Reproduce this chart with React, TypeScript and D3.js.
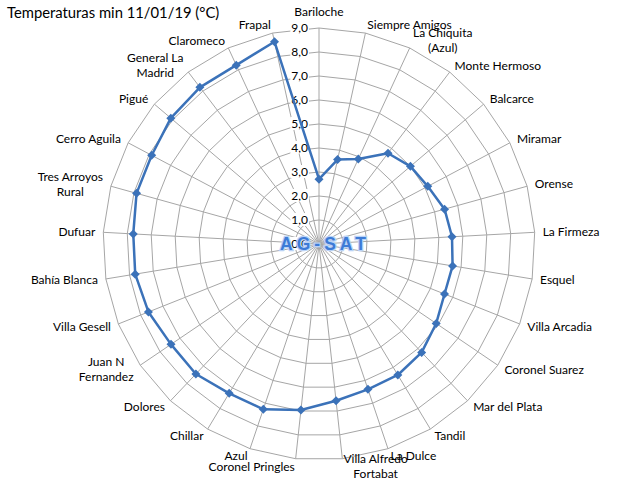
import React from "react";
import * as d3 from "d3";

const categories: string[] = [
  "Bariloche", "Siempre Amigos", "La Chiquita\n(Azul)", "Monte Hermoso", "Balcarce",
  "Miramar", "Orense", "La Firmeza", "Esquel", "Villa Arcadia", "Coronel Suarez",
  "Mar del Plata", "Tandil", "La Dulce", "Villa Alfredo\nFortabat", "Coronel Pringles",
  "Azul", "Chillar", "Dolores", "Juan N\nFernandez", "Villa Gesell", "Bahía Blanca",
  "Dufuar", "Tres Arroyos\nRural", "Cerro Aguila", "Pigué", "General La\nMadrid",
  "Claromeco", "Frapal",
];
const values: number[] = [
  2.7, 3.6, 3.9, 4.75, 5.0, 5.13, 5.43, 5.55, 5.64, 5.63, 5.9, 6.22, 6.37, 6.39, 6.57,
  6.96, 7.27, 7.26, 7.46, 7.45, 7.65, 7.76, 7.75, 7.89, 7.89, 8.1, 8.2, 8.21, 8.63,
];
const tickValues: number[] = [0, 1, 2, 3, 4, 5, 6, 7, 8, 9];
const title = "Temperaturas min 11/01/19 (°C)";
const watermark = "AG-SAT";

const W = 640, H = 480;
const cx = 319, cy = 244, R = 216;
const FONT = "Lato, 'Open Sans', sans-serif";
const LABEL_SIZE = 12;
const GRID = "#a6a6a6";
const SERIES = "#3b72b9";

let measureCtx: CanvasRenderingContext2D | null = null;
function textWidth(s: string, size: number): number {
  if (!measureCtx) measureCtx = document.createElement("canvas").getContext("2d");
  if (!measureCtx) return s.length * size * 0.5;
  measureCtx.font = `${size}px Lato`;
  return measureCtx.measureText(s).width;
}

export default function App() {
  const n = categories.length;
  const r = d3.scaleLinear().domain([0, 9]).range([0, R]);
  const ang = d3.scaleLinear().domain([0, n]).range([0, 2 * Math.PI]);
  const pt = (i: number, rad: number): [number, number] => [
    cx + rad * Math.sin(ang(i)),
    cy - rad * Math.cos(ang(i)),
  ];
  const fmt = (v: number) => d3.format(".1f")(v).replace(".", ",");

  const ringPath = (v: number) =>
    d3.line()(d3.range(n).map((i) => pt(i, r(v)))) + "Z";

  const seriesPath = d3
    .lineRadial<number>()
    .angle((_, i) => ang(i))
    .radius((d) => r(d))
    .curve(d3.curveLinearClosed)(values) as string;

  const fmtLabel = (cat: string, i: number) => {
    const lines = cat.split("\n");
    const [px, py0] = pt(i, R + 8);
    const s = Math.sin(ang(i));
    const c = Math.cos(ang(i));
    const lh = 15;
    let py = py0;
    if (Math.abs(s) < 0.05) py = py0 - c * 8;
    const bw = Math.max(...lines.map((l) => textWidth(l, LABEL_SIZE)));
    let mx = px;
    if (s > 0.05) mx = px + bw / 2;
    else if (s < -0.05) mx = px - bw / 2;
    const top = py - ((lines.length - 1) * lh) / 2;
    return (
      <text key={i} fontFamily={FONT} fontSize={LABEL_SIZE} fill="#000" textAnchor="middle">
        {lines.map((l, k) => (
          <tspan key={k} x={mx} y={top + k * lh} dy="0.35em">{l}</tspan>
        ))}
      </text>
    );
  };

  return (
    <svg width={W} height={H} style={{ position: "absolute", left: 0, top: 0, background: "#fff" }}>
      <rect width={W} height={H} fill="#fff" />
      <text x={7} y={18} fontFamily={FONT} fontSize={14.8} fill="#000">{title}</text>
      <g>
        {tickValues.filter((v) => v > 0).map((v) => (
          <path key={v} d={ringPath(v)} fill="none" stroke={GRID} strokeWidth={1} />
        ))}
        {d3.range(n).map((i) => {
          const [x, y] = pt(i, R);
          return <line key={i} x1={cx} y1={cy} x2={x} y2={y} stroke={GRID} strokeWidth={1} />;
        })}
      </g>
      <g>
        {tickValues.map((v) => {
          const y = cy - r(v);
          const label = fmt(v);
          const w = textWidth(label, LABEL_SIZE);
          return (
            <g key={v}>
              <rect x={308 - w - 1} y={y - 7} width={w + 2} height={13} fill="#fff" />
              <text x={308} y={y} dy="0.35em" textAnchor="end" fontFamily={FONT} fontSize={LABEL_SIZE} fill="#000">
                {label}
              </text>
            </g>
          );
        })}
      </g>
      <path d={seriesPath} transform={`translate(${cx},${cy})`} fill="none" stroke={SERIES} strokeWidth={2.5} strokeLinejoin="round" />
      <g>
        {values.map((v, i) => {
          const [x, y] = pt(i, r(v));
          return (
            <path key={i} d="M0,-4.5L4.5,0L0,4.5L-4.5,0Z" transform={`translate(${x},${y})`} fill={SERIES} />
          );
        })}
      </g>
      <g>{categories.map((c, i) => fmtLabel(c, i))}</g>
      <text
        x={325}
        y={250}
        textAnchor="middle"
        fontFamily="'Liberation Sans', Arial, sans-serif"
        fontWeight="bold"
        fontSize={17.5}
        letterSpacing={4}
        fill="#3d7bd6"
        stroke="#b9d2f6"
        strokeWidth={2.5}
        paintOrder="stroke"
      >
        {watermark}
      </text>
    </svg>
  );
}
